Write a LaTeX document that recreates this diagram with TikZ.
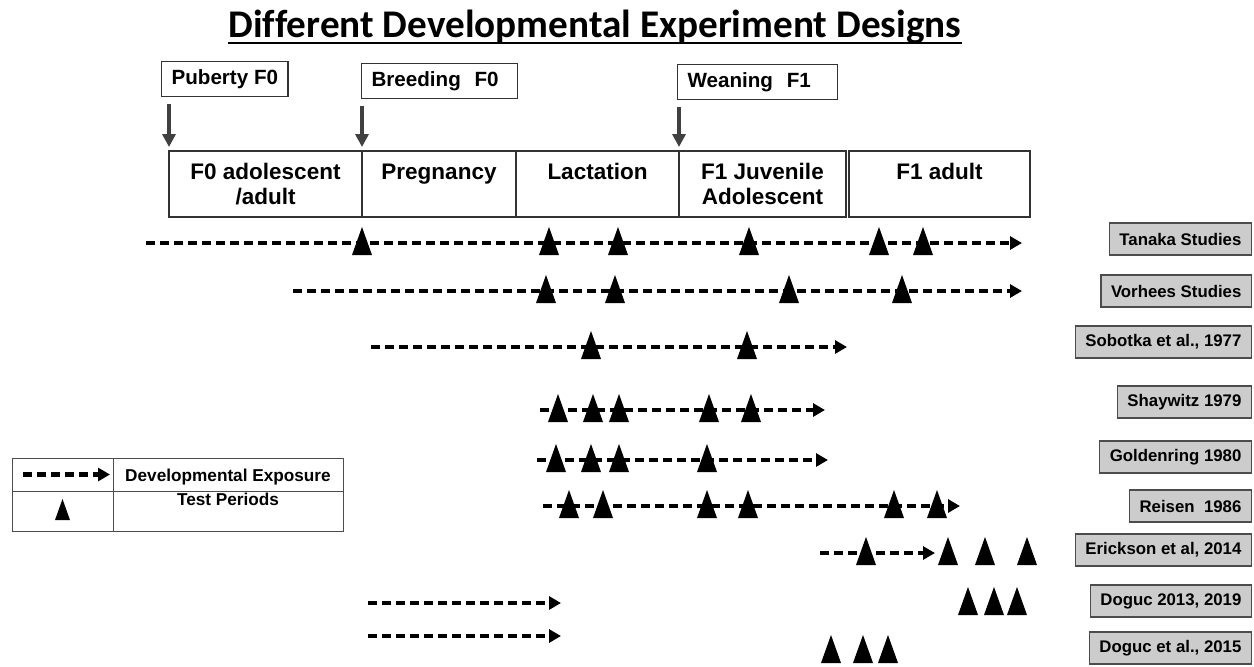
\documentclass[tikz,border=0pt]{standalone}
\usepackage{fontspec}
\setmainfont{Liberation Sans}
\newfontfamily\titlefont[Ligatures=NoCommon]{Carlito}
\usetikzlibrary{arrows.meta,positioning}

\begin{document}
\begin{tikzpicture}
[x=0.5pt, y=-0.5pt,
evtbox/.style ={rectangle, draw=black!80, line width=0.6pt, anchor=north west,
 inner xsep=5pt, inner ysep=0pt, align=left, minimum height=17.5pt,
 font=\fontsize{10.3}{12}\selectfont\bfseries},
phase/.style ={rectangle, draw=black!80, line width=0.6pt, anchor=north west,
 inner sep=0pt, outer sep=0pt, align=center, minimum height=33pt,
 font=\fontsize{11.25}{12.5}\selectfont\bfseries},
evtarrow/.style ={draw=black!75, line width=1.7pt,
 -{Triangle[length=6.5pt,width=6.5pt]}, shorten <=3.5pt, shorten >=2pt},
expo/.style ={line width=2.2pt, dash pattern=on 4.5pt off 2.5pt,
 -{Triangle[length=6pt,width=6.5pt]}},
study/.style ={rectangle, draw=black!70, fill=black!20, line width=0.6pt,
 anchor=east, inner xsep=5pt, minimum height=16pt,
 font=\fontsize{8.4}{10}\selectfont\bfseries},
cell/.style ={rectangle, draw=black!70, line width=0.5pt, anchor=north west,
 inner sep=0pt, outer sep=0pt},
legtxt/.style ={font=\fontsize{8.6}{10}\selectfont\bfseries},
testmark/.pic ={\fill (-10,12) -- (10,12) -- (0,-16) -- cycle;}]

\useasboundingbox (0,0) rectangle (1254,666);

% title
\node[inner sep=0pt, anchor=base west, font=\fontsize{19.6}{22}\selectfont\titlefont\bfseries]
 (title) at (228,37) {Different Developmental Experiment Designs~};
\draw[line width=1.4pt] ([yshift=-3pt]title.base west) -- ([yshift=-3pt]title.base east);

% events
\node[evtbox] (pub) at (161,61) {Puberty F0};
\node[evtbox, text width=68pt] (breed) at (361,63) {Breeding~~F0};
\node[evtbox, text width=70pt] (wean) at (677,64) {Weaning~~F1};

% phases
\node[phase, minimum width=96.5pt] (f0) at (169,151) {F0 adolescent\\/adult};
\node[phase, minimum width=77pt] (preg) at (f0.north east) {Pregnancy\\\mbox{}};
\node[phase, minimum width=81.5pt] (lact) at (preg.north east) {Lactation\\\mbox{}};
\node[phase, minimum width=83.5pt] (juv) at (lact.north east) {F1 Juvenile\\Adolescent};
\node[phase, minimum width=90.5pt] (f1ad) at ([xshift=1.5pt]juv.north east) {F1 adult\\\mbox{}};

\draw[evtarrow] (pub.south -| f0.north west) -- (f0.north west);
\draw[evtarrow] (breed.south -| preg.north west) -- (preg.north west);
\draw[evtarrow] (wean.south -| juv.north west) -- (juv.north west);

% studies
\node[study] (tanaka) at (1252,239) {Tanaka Studies};
\node[study] (vorhees) at (1252,291) {Vorhees Studies};
\node[study] (sobotka) at (1252,342) {Sobotka et al., 1977};
\node[study] (shaywitz) at (1252,402) {Shaywitz 1979};
\node[study] (golden) at (1252,457) {Goldenring 1980};
\node[study] (reisen) at (1252,506) {Reisen~ 1986};
\node[study] (erick) at (1252,550) {Erickson et al, 2014};
\node[study] (doguca) at (1252,601) {Doguc 2013, 2019};
\node[study] (dogucb) at (1252,648) {Doguc et al., 2015};

% exposure lines
\coordinate (tanS) at (146,243);  \coordinate (tanE) at (1022,243);
\coordinate (vorS) at (293,291);  \coordinate (vorE) at (1022,291);
\coordinate (sobS) at (371,347);  \coordinate (sobE) at (847,347);
\coordinate (shaS) at (540,410);  \coordinate (shaE) at (825,410);
\coordinate (golS) at (537,460);  \coordinate (golE) at (828,460);
\coordinate (reiS) at (543,506);  \coordinate (reiE) at (960,506);
\coordinate (eriS) at (820,553);  \coordinate (eriE) at (935,553);
\coordinate (dgaS) at (368,603);  \coordinate (dgaE) at (561,603);
\coordinate (dgbS) at (368,636);  \coordinate (dgbE) at (561,636);

\draw[expo] (tanS) -- (tanE);
\draw[expo] (vorS) -- (vorE);
\draw[expo] (sobS) -- (sobE);
\draw[expo] (shaS) -- (shaE);
\draw[expo] (golS) -- (golE);
\draw[expo] (reiS) -- (reiE);
\draw[expo] (eriS) -- (eriE);
\draw[expo] (dgaS) -- (dgaE);
\draw[expo] (dgbS) -- (dgbE);

% test periods
\foreach \x in {362,549,618,749,879,923} \pic at (\x,243) {testmark};
\foreach \x in {546,615,789,902} \pic at (\x,291) {testmark};
\foreach \x in {591,747} \pic at (\x,347) {testmark};
\foreach \x in {558,593,619,709,751} \pic at (\x,410) {testmark};
\foreach \x in {556,591,619,707} \pic at (\x,460) {testmark};
\foreach \x in {569,603,707,748,894,937} \pic at (\x,506) {testmark};
\foreach \x in {866,948,985,1027} \pic at (\x,553) {testmark};
\foreach \x in {968,994,1017} \pic at (\x,603) {testmark};
\foreach \x in {831,863,888} \pic at (\x,651) {testmark};

% legend
\node[cell, minimum width=50.5pt, minimum height=16.5pt] (lgA) at (12,458) {};
\node[cell, minimum width=115pt, minimum height=16.5pt] (lgB) at (lgA.north east) {};
\node[cell, minimum width=50.5pt, minimum height=20pt] (lgC) at (lgA.south west) {};
\node[cell, minimum width=115pt, minimum height=20pt] (lgD) at (lgA.south east) {};
\node[legtxt] (lgExpo) at ([yshift=-1.5pt]lgB) {Developmental Exposure};
\node[legtxt, anchor=north, inner sep=0pt] (lgTest) at ([yshift=-1pt]lgD.north) {Test Periods};
\draw[expo, shorten <=5.5pt, shorten >=1.5pt] (lgA.west) -- (lgA.east);
\pic[scale=0.75] at (lgC) {testmark};

\end{tikzpicture}
\end{document}
